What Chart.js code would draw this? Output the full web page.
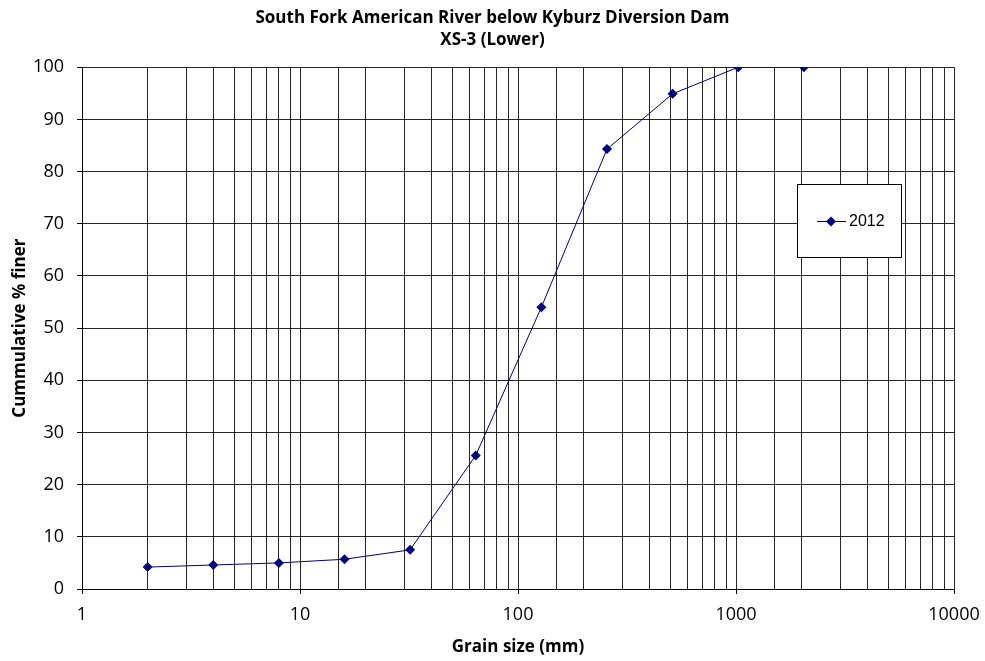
<!DOCTYPE html>
<html>
<head>
<meta charset="utf-8">
<script src="https://cdn.jsdelivr.net/npm/chart.js@4"></script>
<style>
  body { margin: 0; background: #fff; }
  #wrap { width: 985px; height: 661px; }
</style>
</head>
<body>
<div id="wrap"><canvas id="myChart" width="985" height="661"></canvas></div>
<script>
const ctx = document.getElementById("myChart").getContext("2d");

// grain size (mm) and cumulative % finer
const grainSize = [2, 4, 8, 16, 32, 64, 128, 256, 512, 1024, 2048];
const finer2012 = [4.2, 4.6, 5.0, 5.7, 7.5, 25.6, 54.0, 84.3, 94.9, 100, 100];
const yTicks = [0, 10, 20, 30, 40, 50, 60, 70, 80, 90, 100];
const xMajor = [1, 10, 100, 1000, 10000];

const lineColor = "#000080";
const labelFont = "'Open Sans', 'Noto Sans', sans-serif";
const isMajor = (v) => xMajor.includes(v);

// legend box drawn inside the plot
const legendBoxPlugin = {
  id: "legendBox",
  afterDraw(chart) {
    const { ctx } = chart;
    const ds = chart.data.datasets[0];
    const bx = 797, by = 184, bw = 104, bh = 73;
    ctx.save();
    ctx.fillStyle = "#fff";
    ctx.fillRect(bx, by, bw, bh);
    ctx.strokeStyle = "#000";
    ctx.lineWidth = 1;
    ctx.strokeRect(bx + 0.5, by + 0.5, bw, bh);
    const cy = by + bh / 2 + 1;
    ctx.strokeStyle = lineColor;
    ctx.beginPath();
    ctx.moveTo(817, cy);
    ctx.lineTo(846, cy);
    ctx.stroke();
    ctx.fillStyle = lineColor;
    ctx.beginPath();
    ctx.moveTo(831, cy - 5);
    ctx.lineTo(836, cy);
    ctx.lineTo(831, cy + 5);
    ctx.lineTo(826, cy);
    ctx.closePath();
    ctx.fill();
    ctx.fillStyle = "#000";
    ctx.font = "16px 'Liberation Sans', Arial";
    ctx.textBaseline = "middle";
    ctx.fillText(ds.label, 849, cy);
    ctx.restore();
  },
};

new Chart(ctx, {
  type: "line",
  data: {
    datasets: [
      {
        label: "2012",
        data: grainSize.map((g, i) => ({ x: g, y: finer2012[i] })),
        borderColor: lineColor,
        backgroundColor: lineColor,
        borderWidth: 1,
        pointStyle: "rectRot",
        pointRadius: 5,
        pointBorderWidth: 0,
        tension: 0,
      },
    ],
  },
  options: {
    responsive: false,
    animation: false,
    layout: { padding: 0 },
    scales: {
      x: {
        type: "logarithmic",
        min: 1,
        max: 10000,
        border: { color: "#000", width: 1 },
        grid: {
          color: "rgba(0,0,0,0.85)",
          lineWidth: 1,
          drawTicks: true,
          tickLength: 5,
          tickColor: (c) => (c.tick && isMajor(c.tick.value) ? "#000" : "rgba(0,0,0,0)"),
        },
        ticks: {
          autoSkip: false,
          maxRotation: 0,
          color: "#000",
          font: { family: labelFont, size: 18 },
          padding: 10,
          callback: (v) => (isMajor(v) ? String(v) : ""),
        },
        title: {
          display: true,
          text: "Grain size (mm)",
          color: "#000",
          font: { family: labelFont, size: 17, weight: "bold" },
          padding: { top: 0, bottom: 4 },
        },
        afterFit(scale) {
          scale.height = 72;
          scale.paddingRight = 31;
        },
      },
      y: {
        min: 0,
        max: 100,
        afterBuildTicks(scale) {
          scale.ticks = yTicks.map((v) => ({ value: v }));
        },
        border: { color: "#000", width: 1 },
        grid: {
          color: "rgba(0,0,0,0.85)",
          lineWidth: 1,
          tickLength: 5,
          tickColor: "#000",
        },
        ticks: {
          color: "#000",
          font: { family: labelFont, size: 18 },
          padding: 13,
        },
        title: {
          display: true,
          text: "Cummulative % finer",
          color: "#000",
          font: { family: labelFont, size: 17, weight: "bold" },
          padding: { top: 10, bottom: 6 },
        },
        afterFit(scale) {
          scale.width = 82;
        },
      },
    },
    plugins: {
      legend: { display: false },
      tooltip: { enabled: false },
      title: {
        display: true,
        text: ["South Fork American River below Kyburz Diversion Dam", "XS-3 (Lower)"],
        color: "#000",
        font: { family: labelFont, size: 17, weight: "bold", lineHeight: 1.3 },
        padding: { top: 7, bottom: 16 },
      },
    },
  },
  plugins: [legendBoxPlugin],
});
</script>
</body>
</html>
